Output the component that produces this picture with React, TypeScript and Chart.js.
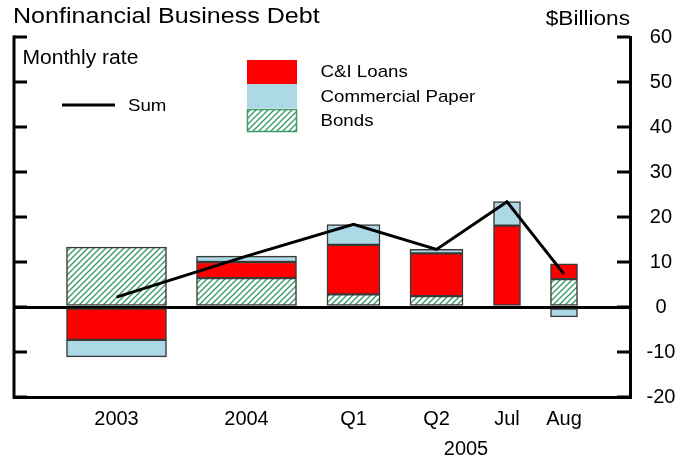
import React, { useEffect, useRef } from 'react';
import { Chart, registerables } from 'chart.js';

Chart.register(...registerables);

// ---- data ----
const categories = ['2003', '2004', 'Q1', 'Q2', 'Jul', 'Aug'];
const periodKind = ['year', 'year', 'quarter', 'quarter', 'month', 'month'];
// where each category sits along the horizontal axis (axis units)
const categoryCenters = [116.5, 246.5, 353.5, 436.5, 507, 564];
const yearLabel = '2005';
const yearLabelCenter = 466;

const bonds = [13.3, 6.4, 2.8, 2.4, 0, 6.2];
const ciLoans = [-7.3, 3.6, 11.0, 9.5, 18.1, 3.4];
const commercialPaper = [-3.8, 1.3, 4.5, 0.9, 5.3, -2.2];
const sumValues = [2.2, 11.3, 18.4, 12.8, 23.4, 7.3];

const yMin = -20;
const yMax = 60;
const yStep = 10;

// ---- styles ----
const FONT = "'Liberation Sans', Arial, Helvetica, sans-serif";
const RED = '#ff0000';
const LIGHTBLUE = '#add8e6';
const GREEN = '#3a9a68';
const BAR_BORDER = '#3a3a3a';
const barWidthByKind: Record<string, number> = { year: 100, quarter: 53, month: 27 };

function makeHatch(): CanvasPattern | string {
  const c = document.createElement('canvas');
  c.width = 6;
  c.height = 6;
  const g = c.getContext('2d');
  if (!g) return GREEN;
  g.fillStyle = '#ffffff';
  g.fillRect(0, 0, 6, 6);
  g.strokeStyle = GREEN;
  g.lineWidth = 1.4;
  g.beginPath();
  g.moveTo(-1, 7);
  g.lineTo(7, -1);
  g.moveTo(-4, 4);
  g.lineTo(4, -4);
  g.moveTo(2, 10);
  g.lineTo(10, 2);
  g.stroke();
  const p = g.createPattern(c, 'repeat');
  return p || GREEN;
}

function stretchText(
  ctx: CanvasRenderingContext2D,
  text: string,
  x: number,
  y: number,
  size: number,
  sx: number,
  align: CanvasTextAlign = 'left'
) {
  ctx.save();
  ctx.font = `${size}px ${FONT}`;
  ctx.fillStyle = '#000';
  ctx.textBaseline = 'alphabetic';
  ctx.textAlign = align;
  ctx.translate(x, y);
  ctx.scale(sx, 1);
  ctx.fillText(text, 0, 0);
  ctx.restore();
}

export default function App() {
  const ref = useRef<HTMLCanvasElement | null>(null);

  useEffect(() => {
    const canvas = ref.current;
    if (!canvas) return;
    const hatch = makeHatch();

    const series = [
      { name: 'Bonds', values: bonds, bg: hatch },
      { name: 'C&I Loans', values: ciLoans, bg: RED },
      { name: 'Commercial Paper', values: commercialPaper, bg: LIGHTBLUE },
    ];
    const kinds = ['year', 'quarter', 'month'];

    const barDatasets: any[] = [];
    series.forEach((s) => {
      kinds.forEach((k) => {
        const idx = categories.map((_, i) => i).filter((i) => periodKind[i] === k);
        barDatasets.push({
          type: 'bar',
          label: s.name,
          data: idx.map((i) => ({ x: categoryCenters[i], y: s.values[i] })),
          backgroundColor: s.bg,
          borderColor: BAR_BORDER,
          borderWidth: 1.5,
          borderSkipped: false,
          barThickness: barWidthByKind[k],
          grouped: false,
          stack: 'debt',
          order: 1,
        });
      });
    });

    const lineDataset: any = {
      type: 'line',
      label: 'Sum',
      data: categories.map((_, i) => ({ x: categoryCenters[i], y: sumValues[i] })),
      borderColor: '#000',
      borderWidth: 3,
      pointRadius: 0,
      tension: 0,
      fill: false,
      stack: 'sum',
      order: 0,
    };

    const decor = {
      id: 'decor',
      afterDraw(chart: any) {
        const ctx: CanvasRenderingContext2D = chart.ctx;
        const area = chart.chartArea;
        const yScale = chart.scales.y;
        ctx.save();
        ctx.strokeStyle = '#000';
        ctx.lineWidth = 3;
        ctx.lineCap = 'butt';
        // left axis line
        ctx.beginPath();
        ctx.moveTo(area.left, area.top - 1.5);
        ctx.lineTo(area.left, area.bottom + 1.5);
        ctx.stroke();
        // inward tick marks on both sides
        for (let v = yMin; v <= yMax; v += yStep) {
          const y = yScale.getPixelForValue(v);
          ctx.beginPath();
          ctx.moveTo(area.left, y);
          ctx.lineTo(area.left + 13, y);
          ctx.moveTo(area.right - 13, y);
          ctx.lineTo(area.right, y);
          ctx.stroke();
        }
        ctx.restore();

        // titles
        stretchText(ctx, 'Nonfinancial Business Debt', 13, 23, 22, 1.14);
        stretchText(ctx, '$Billions', 630, 25, 19.5, 1.16, 'right');
        stretchText(ctx, 'Monthly rate', 22.5, 64, 19.5, 1.08);

        // legend: Sum
        ctx.save();
        ctx.strokeStyle = '#000';
        ctx.lineWidth = 3;
        ctx.beginPath();
        ctx.moveTo(62, 105);
        ctx.lineTo(115, 105);
        ctx.stroke();
        ctx.restore();
        stretchText(ctx, 'Sum', 128, 111, 17, 1.1);

        // legend: boxes
        ctx.save();
        ctx.fillStyle = RED;
        ctx.fillRect(247, 60, 50, 24);
        ctx.fillStyle = LIGHTBLUE;
        ctx.fillRect(247, 84, 50, 24);
        ctx.fillStyle = hatch as any;
        ctx.fillRect(247.5, 109.5, 49, 22);
        ctx.strokeStyle = GREEN;
        ctx.lineWidth = 1.5;
        ctx.strokeRect(247.5, 109.5, 49, 22);
        ctx.restore();
        stretchText(ctx, 'C&I Loans', 320.5, 77, 17, 1.1);
        stretchText(ctx, 'Commercial Paper', 320.5, 102, 17, 1.1);
        stretchText(ctx, 'Bonds', 320.5, 126, 17, 1.1);
      },
    };

    const chart = new Chart(canvas, {
      type: 'bar',
      data: { datasets: [...barDatasets, lineDataset] },
      options: {
        animation: false,
        responsive: false,
        devicePixelRatio: 1,
        layout: { padding: { left: 14, top: 37, right: 0, bottom: 0 } },
        plugins: {
          legend: { display: false },
          tooltip: { enabled: false },
          title: { display: false },
        },
        scales: {
          x: {
            type: 'linear',
            min: 14,
            max: 630,
            stacked: true,
            offset: false,
            grid: { display: true, drawOnChartArea: false, drawTicks: false, color: 'transparent' },
            border: { display: true, color: '#000', width: 3 },
            afterBuildTicks: (scale: any) => {
              scale.ticks = [
                ...categoryCenters.map((v) => ({ value: v })),
                { value: yearLabelCenter },
              ];
            },
            afterFit: (scale: any) => {
              scale.height = 65;
            },
            ticks: {
              autoSkip: false,
              maxRotation: 0,
              minRotation: 0,
              padding: 7,
              color: '#000',
              font: { family: FONT, size: 20, lineHeight: 1.5 },
              callback: (_v: any, index: number) =>
                index < categories.length ? categories[index] : ['', yearLabel],
            },
          },
          y: {
            type: 'linear',
            position: 'right',
            min: yMin,
            max: yMax,
            stacked: true,
            z: 1,
            grid: {
              drawTicks: false,
              lineWidth: 3,
              color: (c: any) => (c.tick && c.tick.value === 0 ? '#000' : 'transparent'),
            },
            border: { display: true, color: '#000', width: 3 },
            afterFit: (scale: any) => {
              scale.width = 61;
            },
            ticks: {
              stepSize: yStep,
              crossAlign: 'center',
              padding: 16.5,
              color: '#000',
              font: { family: FONT, size: 20 },
            },
          },
        },
      } as any,
      plugins: [decor],
    });

    return () => chart.destroy();
  }, []);

  return (
    <div style={{ position: 'absolute', left: 0, top: 0, width: 691, height: 462, background: '#fff' }}>
      <canvas ref={ref} width={691} height={462} style={{ width: 691, height: 462, display: 'block' }} />
    </div>
  );
}
